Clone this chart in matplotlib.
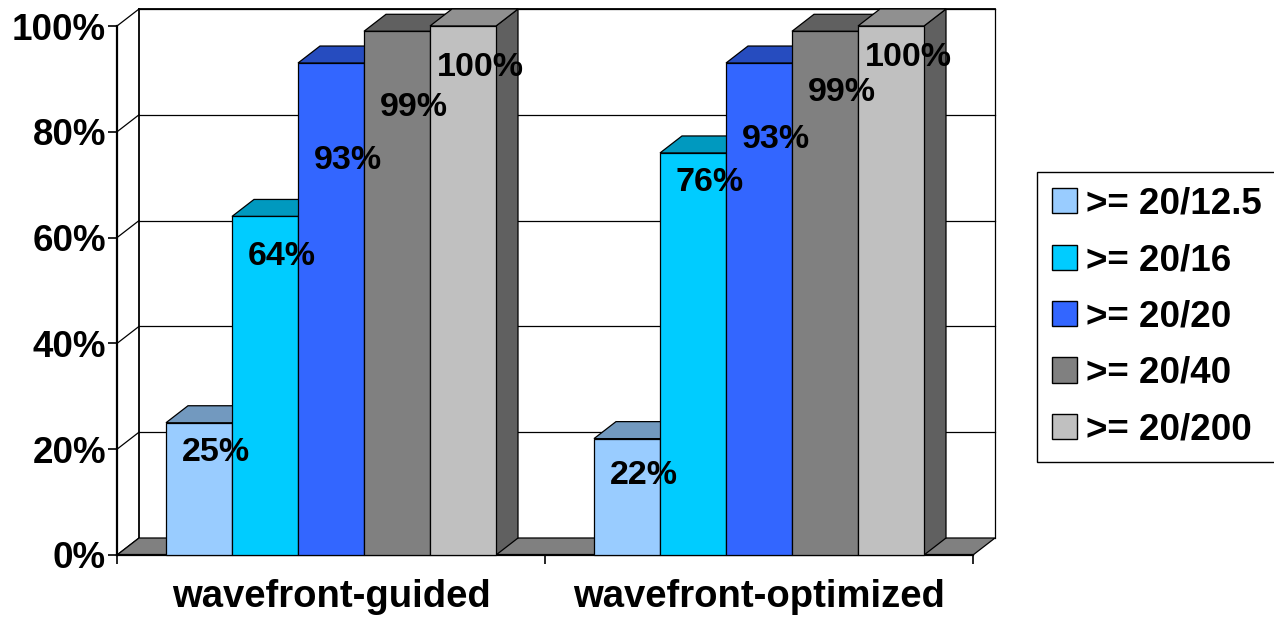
import matplotlib
matplotlib.use("Agg")
import matplotlib.pyplot as plt
from matplotlib.patches import Rectangle, Polygon, Patch
from matplotlib.ticker import FixedLocator, FuncFormatter

plt.rcParams["font.family"] = ["Liberation Sans", "DejaVu Sans"]
plt.rcParams["font.weight"] = "bold"

# -------------------------
# data
# -------------------------
groups = ["wavefront-guided", "wavefront-optimized"]
series = [">= 20/12.5", ">= 20/16", ">= 20/20", ">= 20/40", ">= 20/200"]
guided = [25, 64, 93, 99, 100]
optimized = [22, 76, 93, 99, 100]
values = [guided, optimized]

front_colors = ["#99CCFF", "#00CCFF", "#3366FF", "#808080", "#C0C0C0"]


def shade(hex_color, k):
    r, g, b = (int(hex_color[i:i + 2], 16) for i in (1, 3, 5))
    return "#%02X%02X%02X" % (int(r * k), int(g * k), int(b * k))


top_colors = [shade(c, 0.75) for c in front_colors]
side_colors = [shade(c, 0.5) for c in front_colors]

# label drop below bar top (pixels), per group / series
label_drop = [[30, 40, 97, 76, 41], [37, 30, 76, 61, 31]]

# -------------------------
# figure / axes
# -------------------------
W, H = 1274, 619
fig = plt.figure(figsize=(W / 100, H / 100), dpi=100)

x_front_left, x_front_right = 117, 973
y_zero, y_full = 555, 26
depth_px = (22, 17)

px_per_cat = (x_front_right - x_front_left) / 2
px_per_pct = (y_zero - y_full) / 100
dxd = depth_px[0] / px_per_cat
dyd = depth_px[1] / px_per_pct

ax_left = x_front_left
ax_right = x_front_right + depth_px[0]
ax_top = y_full - depth_px[1]
ax = fig.add_axes([ax_left / W, (H - y_zero) / H,
                   (ax_right - ax_left) / W, (y_zero - ax_top) / H])
ax.set_xlim(0, 2 + dxd)
ax.set_ylim(0, 100 + dyd)
ax.patch.set_visible(False)

# axes lines and ticks
for s in ["top", "right"]:
    ax.spines[s].set_visible(False)
ax.spines["left"].set_bounds(0, 100)
ax.spines["bottom"].set_bounds(0, 2)
for s in ["left", "bottom"]:
    ax.spines[s].set_linewidth(1.6)
    ax.spines[s].set_clip_on(False)

yt = [0, 20, 40, 60, 80, 100]
ax.yaxis.set_major_locator(FixedLocator(yt))
ax.yaxis.set_major_formatter(FuncFormatter(lambda v, p: "%d%%" % v))
ax.tick_params(axis="y", direction="out", length=6.5, width=1.2, pad=1.5,
               labelsize=26.5)
ax.xaxis.set_major_locator(FixedLocator([0, 1, 2]))
ax.xaxis.set_minor_locator(FixedLocator([0.5, 1.5]))
ax.xaxis.set_major_formatter(FuncFormatter(lambda v, p: ""))
ax.xaxis.set_minor_formatter(FuncFormatter(lambda v, p: groups[int(v)]))
ax.tick_params(axis="x", which="major", direction="out", length=6.5, width=1.2)
ax.tick_params(axis="x", which="minor", length=0, pad=17, labelsize=27.5)
for lab in ax.get_yticklabels() + ax.get_xticklabels(minor=True):
    lab.set_fontweight("bold")

# back wall, side wall and gridlines
lw_grid = 0.9
for v in yt:
    ax.plot([0, dxd], [v, v + dyd], color="black", lw=lw_grid, clip_on=False, zorder=1)
    if v > 0:
        ax.plot([dxd, 2 + dxd], [v + dyd, v + dyd], color="black", lw=lw_grid,
                clip_on=False, zorder=1)
ax.plot([dxd, dxd], [dyd, 100 + dyd], color="black", lw=1.3, clip_on=False, zorder=1)
ax.plot([2 + dxd, 2 + dxd], [dyd, 100 + dyd], color="black", lw=lw_grid,
        clip_on=False, zorder=1)
ax.plot([dxd, 2 + dxd], [100 + dyd, 100 + dyd], color="black", lw=1.3,
        clip_on=False, zorder=1)

# floor
ax.add_patch(Polygon([(0, 0), (2, 0), (2 + dxd, dyd), (dxd, dyd)], closed=True,
                     facecolor="#808080", edgecolor="black", lw=0.9, zorder=2,
                     clip_on=False))

# 3d bars
bar_w = 66 / px_per_cat
n = len(series)
z = 3
for g, vals in enumerate(values):
    start = g + 0.5 - n * bar_w / 2
    for i, v in enumerate(vals):
        x0 = start + i * bar_w
        x1 = x0 + bar_w
        ax.add_patch(Polygon([(x1, 0), (x1 + dxd, dyd), (x1 + dxd, v + dyd), (x1, v)],
                             closed=True, facecolor=side_colors[i], edgecolor="black",
                             lw=0.9, zorder=z, clip_on=False))
        ax.add_patch(Polygon([(x0, v), (x1, v), (x1 + dxd, v + dyd), (x0 + dxd, v + dyd)],
                             closed=True, facecolor=top_colors[i], edgecolor="black",
                             lw=0.9, zorder=z, clip_on=False))
        ax.add_patch(Rectangle((x0, 0), bar_w, v, facecolor=front_colors[i],
                               edgecolor="black", lw=0.9, zorder=z, clip_on=False))
        z += 1

# value labels
for g, vals in enumerate(values):
    start = g + 0.5 - n * bar_w / 2
    for i, v in enumerate(vals):
        xc = start + (i + 0.5) * bar_w
        ax.annotate("%d%%" % v, xy=(xc, v), xytext=(17, -label_drop[g][i]),
                    textcoords="offset pixels", ha="center", va="center",
                    fontsize=24.5, fontweight="bold", zorder=50)

# legend
handles = [Patch(facecolor=c, edgecolor="black", lw=1) for c in front_colors]
leg = fig.legend(handles, series, loc="upper left",
                 bbox_to_anchor=(1037 / W, 1 - 172 / H), borderaxespad=0,
                 fancybox=False, edgecolor="black", framealpha=1,
                 prop={"size": 26.5, "weight": "bold"},
                 handlelength=0.68, handleheight=0.68, handletextpad=0.25,
                 borderpad=0.4, labelspacing=0.58)
leg.get_frame().set_linewidth(1.0)

fig.savefig("out.png", dpi=100)
